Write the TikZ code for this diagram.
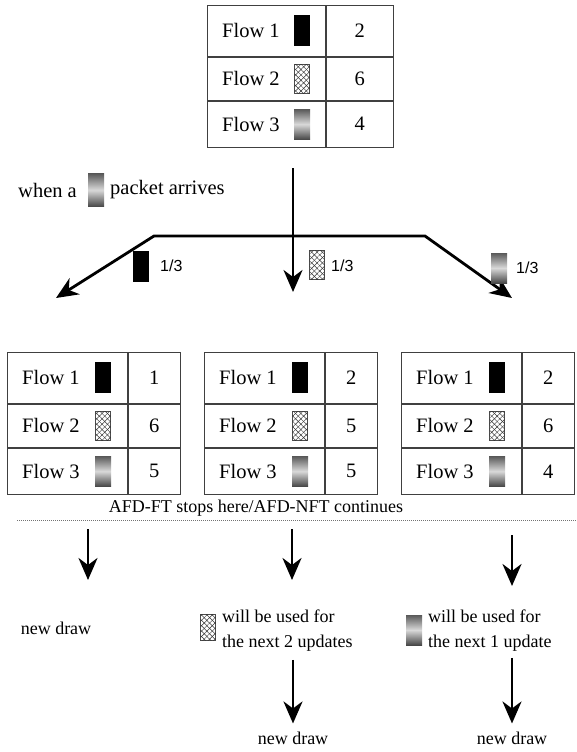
\documentclass[tikz,border=0pt]{standalone}
\usepackage{fontspec}
\setmainfont{Liberation Serif}
\newfontfamily\labelsans{Liberation Sans}
\usetikzlibrary{arrows.meta,patterns.meta,calc}

\tikzset{
  x=1pt, y=-1pt,
  cell/.style={draw=black!75, line width=0.9pt, inner sep=0pt, anchor=north west},
  solidbar/.style={fill=black, minimum width=16pt, minimum height=31pt, inner sep=0pt},
  hatchbar/.style={draw=black!70, line width=0.5pt, fill=white,
    postaction={pattern={Lines[angle=45,distance=3.8pt,line width=0.45pt]}, pattern color=black!80},
    postaction={pattern={Lines[angle=-45,distance=3.8pt,line width=0.45pt]}, pattern color=black!80},
    minimum width=15pt, minimum height=29pt, inner sep=0pt},
  gradbar/.style={top color=black!65, bottom color=black!72, middle color=black!15,
    minimum width=16pt, minimum height=30pt, inner sep=0pt},
  txt/.style={font=\fontsize{18}{25}\selectfont, inner sep=0pt},
  bigtxt/.style={font=\fontsize{20.5}{25}\selectfont, inner sep=0pt},
  fraclabel/.style={font=\labelsans\fontsize{16}{19}\selectfont, inner sep=0pt},
  flowarrow/.style={line width=2.8pt, line join=miter,
    -{Stealth[length=22pt,width=19pt,inset=7pt]}},
}

% a three-row flow table: name, x, y, left width, right width, icon offset, counts
\newcommand\flowtab[9]{%
  \node[cell, minimum width=#4pt, minimum height=51pt] (#1-l1) at (#2,#3) {};
  \node[cell, minimum width=#5pt, minimum height=51pt] (#1-r1) at (#1-l1.north east) {};
  \node[cell, minimum width=#4pt, minimum height=43pt] (#1-l2) at (#1-l1.south west) {};
  \node[cell, minimum width=#5pt, minimum height=43pt] (#1-r2) at (#1-l2.north east) {};
  \node[cell, minimum width=#4pt, minimum height=46pt] (#1-l3) at (#1-l2.south west) {};
  \node[cell, minimum width=#5pt, minimum height=46pt] (#1-r3) at (#1-l3.north east) {};
  \node[bigtxt, anchor=west] (#1-t1) at ([xshift=15pt]#1-l1.west) {Flow 1};
  \node[bigtxt, anchor=west] (#1-t2) at ([xshift=15pt]#1-l2.west) {Flow 2};
  \node[bigtxt, anchor=west] (#1-t3) at ([xshift=15pt]#1-l3.west) {Flow 3};
  \node[solidbar] (#1-i1) at ([xshift=#6pt]#1-l1.west) {};
  \node[hatchbar] (#1-i2) at ([xshift=#6pt]#1-l2.west) {};
  \node[gradbar]  (#1-i3) at ([xshift=#6pt]#1-l3.west) {};
  \node[bigtxt] (#1-n1) at (#1-r1) {#7};
  \node[bigtxt] (#1-n2) at (#1-r2) {#8};
  \node[bigtxt] (#1-n3) at (#1-r3) {#9};
}

\begin{document}
\begin{tikzpicture}
\useasboundingbox (0,0) rectangle (576,752);

% state before the packet arrives
\flowtab{top}{207}{5}{118}{67}{95}{2}{6}{4}

\node[bigtxt, anchor=west] (when) at (18,190) {when a};
\node[gradbar, minimum height=33pt] (whenicon) at (96,190) {};
\node[bigtxt, anchor=west] (arrives) at (110,190) {packet arrives};

% the three possible draws
\coordinate (src) at (293,168);
\coordinate (midtip) at (293,292);
\coordinate (forkl) at (154,236);
\coordinate (forkr) at (425,236);
\coordinate (forkc) at (293,236);
\coordinate (tipl) at (56,298);
\coordinate (tipr) at (512,298);
\draw[flowarrow] (src) -- (midtip);
\draw[flowarrow] (forkc) -- (forkl) -- (tipl);
\draw[flowarrow] (forkc) -- (forkr) -- (tipr);

\node[solidbar] (p1) at (141,266) {};
\node[fraclabel, anchor=west] (f1) at (160,266) {1/3};
\node[hatchbar] (p2) at (317,265) {};
\node[fraclabel, anchor=west] (f2) at (331,266) {1/3};
\node[gradbar] (p3) at (499,268) {};
\node[fraclabel, anchor=west] (f3) at (516,268) {1/3};

% resulting states
\flowtab{ta}{7}{352}{120}{52}{96}{1}{6}{5}
\flowtab{tb}{204}{352}{120}{52}{96}{2}{5}{5}
\flowtab{tc}{401}{352}{120}{52}{96}{2}{6}{4}

\node[txt] (stop) at (256,508) {AFD-FT stops here/AFD-NFT continues};
\coordinate (sepl) at (17,520);
\coordinate (sepr) at (576,520);
\draw[black!55, line width=0.6pt, dash pattern=on 1pt off 1pt] (sepl) -- (sepr);

% what happens next in each case
\coordinate (a1s) at (88,529);
\coordinate (a2s) at (292,529);
\coordinate (a3s) at (512,535);
\node[txt] (nd1) at (56,628) {new draw};
\draw[flowarrow] (a1s) -- ++(0,51);
\draw[flowarrow] (a2s) -- ++(0,51);
\draw[flowarrow] (a3s) -- ++(0,51);

\node[hatchbar, minimum height=26pt] (u2icon) at (208,627) {};
\node[txt, anchor=west, align=left] (u2) at (222,631) {will be used for\\the next 2 updates};
\node[gradbar] (u3icon) at (414,630) {};
\node[txt, anchor=west, align=left] (u3) at (428,631) {will be used for\\the next 1 update};

\node[txt] (nd2) at (293,738) {new draw};
\node[txt] (nd3) at (512,738) {new draw};
\draw[flowarrow] (u2.south -| nd2) ++(0,8) coordinate (b2s) -- ([yshift=8pt]nd2.north);
\draw[flowarrow] (u3.south -| nd3) ++(0,6) coordinate (b3s) -- ([yshift=8pt]nd3.north);
\end{tikzpicture}
\end{document}
